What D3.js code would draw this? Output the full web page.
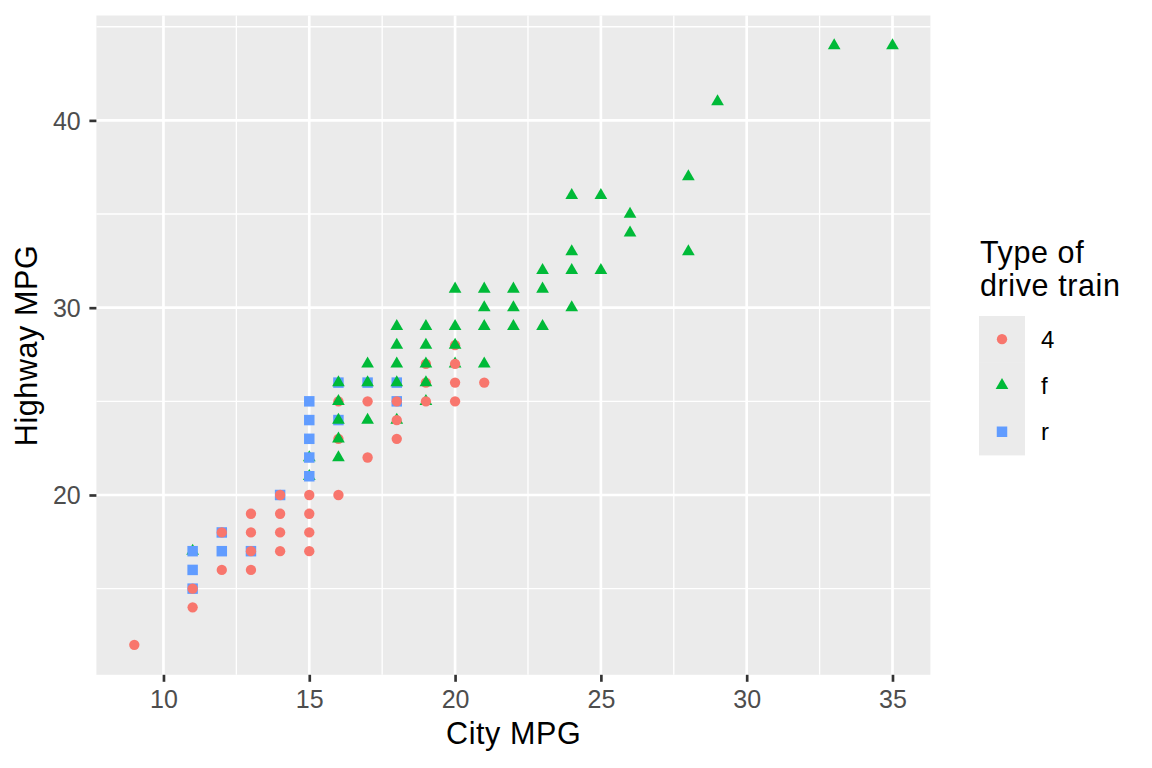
<!DOCTYPE html>
<html>
<head>
<meta charset="utf-8">
<script src="https://cdn.jsdelivr.net/npm/d3@7"></script>
<style>
  html, body { margin: 0; padding: 0; background: #fff; }
  svg { display: block; font-family: "Liberation Sans", Arial, Helvetica, sans-serif; }
</style>
</head>
<body>
<svg id="chart" width="1152" height="768"></svg>
<script>
// ---- data (draw order: first = bottom) ----
const cty = [11,11,12,13,14,15,15,16,16,16,16,17,18,18,18,19,19,19,20,20,
  9,11,11,12,12,13,13,13,13,14,14,14,14,15,15,15,15,16,17,17,18,18,18,19,20,20,20,21,
  11,11,12,15,15,15,15,15,
  16,16,16,16,16,17,17,17,18,18,18,18,19,19,19,19,20,20,20,21,21,21,21,22,22,22,23,23,23,24,24,24,24,25,25,26,26,28,28,29,33,35];
const hwy = [15,17,18,17,20,21,22,23,24,25,26,26,24,25,26,25,26,27,27,28,
  12,14,15,16,18,16,17,18,19,17,18,19,20,17,18,19,20,20,22,25,23,24,25,25,25,26,27,26,
  16,17,17,21,22,23,24,25,
  22,23,24,25,26,24,26,27,26,27,28,29,26,27,28,29,28,29,31,27,29,30,31,29,30,31,29,31,32,30,32,33,36,32,36,34,35,33,37,41,44,44];
const drv = ["r","f","r","r","r","f","f","4","r","4","r","r","f","r","r","f","4","4","f","4",
  "4","4","4","4","4","4","4","4","4","4","4","4","4","4","4","4","4","4","4","4","4","4","4","4","4","4","4","4",
  "r","r","r","r","r","r","r","r",
  "f","f","f","f","f","f","f","f","f","f","f","f","f","f","f","f","f","f","f","f","f","f","f","f","f","f","f","f","f","f","f","f","f","f","f","f","f","f","f","f","f","f"];

const drvLevels = ["4", "f", "r"];
const drvColors = ["#F8766D", "#00BA38", "#619CFF"];
const xTicks = [10, 15, 20, 25, 30, 35];
const yTicks = [20, 30, 40];
const xMinor = [12.5, 17.5, 22.5, 27.5, 32.5];
const yMinor = [15, 25, 35, 45];
const xTitle = "City MPG";
const yTitle = "Highway MPG";
const legendTitle = ["Type of", "drive train"];

// ---- layout ----
const svg = d3.select("#chart");
const panel = { left: 96.4, right: 930.4, top: 15.5, bottom: 674.8 };
const titleFont = "30.5px", titleSpacing = "0.6px", tickFont = "25px", legendFont = "24px";

const xExt = d3.extent(cty), yExt = d3.extent(hwy);
const xPad = (xExt[1] - xExt[0]) * 0.05, yPad = (yExt[1] - yExt[0]) * 0.05;
const x = d3.scaleLinear().domain([xExt[0] - xPad, xExt[1] + xPad]).range([panel.left, panel.right]);
const y = d3.scaleLinear().domain([yExt[0] - yPad, yExt[1] + yPad]).range([panel.bottom, panel.top]);

const color = d3.scaleOrdinal().domain(drvLevels).range(drvColors);
const shapeOf = d3.scaleOrdinal().domain(drvLevels).range([
  d3.symbol().type(d3.symbolCircle).size(84)(),
  d3.symbol().type(d3.symbolTriangle).size(70)(),
  d3.symbol().type(d3.symbolSquare).size(110)()
]);

// panel background
svg.append("rect")
  .attr("x", panel.left).attr("y", panel.top)
  .attr("width", panel.right - panel.left).attr("height", panel.bottom - panel.top)
  .attr("fill", "#EBEBEB");

const grid = svg.append("g");
grid.selectAll(".xminor").data(xMinor).join("line")
  .attr("x1", d => x(d)).attr("x2", d => x(d)).attr("y1", panel.top).attr("y2", panel.bottom)
  .attr("stroke", "#fff").attr("stroke-width", 1.33);
grid.selectAll(".yminor").data(yMinor.filter(v => y(v) >= panel.top)).join("line")
  .attr("y1", d => y(d)).attr("y2", d => y(d)).attr("x1", panel.left).attr("x2", panel.right)
  .attr("stroke", "#fff").attr("stroke-width", 1.33);
grid.selectAll(".xmajor").data(xTicks).join("line")
  .attr("x1", d => x(d)).attr("x2", d => x(d)).attr("y1", panel.top).attr("y2", panel.bottom)
  .attr("stroke", "#fff").attr("stroke-width", 2.67);
grid.selectAll(".ymajor").data(yTicks).join("line")
  .attr("y1", d => y(d)).attr("y2", d => y(d)).attr("x1", panel.left).attr("x2", panel.right)
  .attr("stroke", "#fff").attr("stroke-width", 2.67);

// axes
const xAxis = svg.append("g").attr("transform", `translate(0,${panel.bottom})`)
  .call(d3.axisBottom(x).tickValues(xTicks).tickSize(7).tickPadding(12));
const yAxis = svg.append("g").attr("transform", `translate(${panel.left},0)`)
  .call(d3.axisLeft(y).tickValues(yTicks).tickSize(7).tickPadding(8.7));
[xAxis, yAxis].forEach(a => {
  a.select(".domain").remove();
  a.selectAll(".tick line").attr("stroke", "#333333").attr("stroke-width", 2.67);
  a.selectAll(".tick text").attr("fill", "#4D4D4D").style("font-size", tickFont)
    .style("font-family", "'Liberation Sans', Arial, sans-serif");
});
xAxis.selectAll(".tick text").attr("dy", null).attr("y", 33.5);
yAxis.selectAll(".tick text").attr("dy", "0.355em");

// points
svg.append("g").selectAll("path").data(cty.map((c, i) => ({ c, h: hwy[i], d: drv[i] }))).join("path")
  .attr("d", p => shapeOf(p.d))
  .attr("transform", p => `translate(${x(p.c)},${y(p.h)})`)
  .attr("fill", p => color(p.d));

// axis titles
svg.append("text").attr("x", (panel.left + panel.right) / 2 + 0.3).attr("y", 744.3)
  .attr("text-anchor", "middle").style("font-size", titleFont).style("letter-spacing", titleSpacing)
  .attr("fill", "#000").text(xTitle);
svg.append("text")
  .attr("transform", `translate(37,${(panel.top + panel.bottom) / 2 + 0.3}) rotate(-90)`)
  .attr("text-anchor", "middle").style("font-size", titleFont).style("letter-spacing", titleSpacing)
  .attr("fill", "#000").text(yTitle);

// legend
const lg = svg.append("g");
lg.selectAll(".lt").data(legendTitle).join("text")
  .attr("x", 980).attr("y", (d, i) => 262.7 + i * 33)
  .style("font-size", titleFont).style("letter-spacing", titleSpacing).attr("fill", "#000").text(d => d);
const keyH = 46.3, keyTop = 316, keyLeft = 979, keyW = 46;
const keys = lg.selectAll(".key").data(drvLevels).join("g")
  .attr("transform", (d, i) => `translate(${keyLeft},${keyTop + i * keyH})`);
keys.append("rect").attr("width", keyW).attr("height", keyH + 0.5).attr("fill", "#EBEBEB");
keys.append("path").attr("d", d => shapeOf(d))
  .attr("transform", `translate(${keyW / 2},${keyH / 2})`).attr("fill", d => color(d));
keys.append("text").attr("x", 62).attr("y", keyH / 2).attr("dy", "0.36em")
  .style("font-size", legendFont).attr("fill", "#000").text(d => d);
</script>
</body>
</html>
